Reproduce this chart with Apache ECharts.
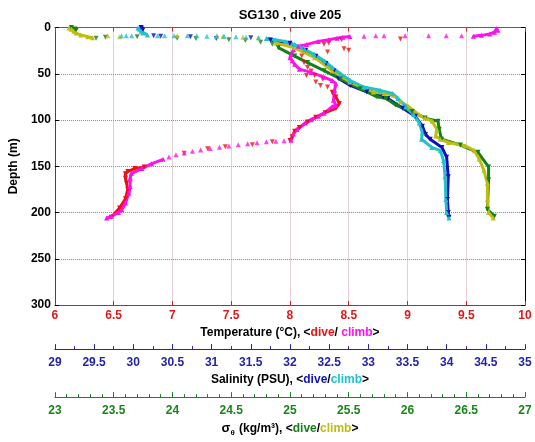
<!DOCTYPE html>
<html>
<head>
<meta charset="utf-8">
<script src="https://cdn.jsdelivr.net/npm/echarts@6/dist/echarts.min.js"></script>
<style>html,body{margin:0;padding:0;background:#fff;}#c{width:535px;height:442px;}</style>
</head>
<body>
<div id="c"></div>
<script>
// ---- data: [value, depth(m)] ----
const tempDiveSparse = [[8.94,12.5],[8.44,13.2],[8.33,16.7],[8.29,18],[8.46,23],[8.50,24.5],[8.32,26.6],[8.10,30.9],[8.12,38],[8.15,43.2],[8.18,47],[8.14,52],[8.21,52],[8.28,56],[8.22,59],[8.26,62.6],[8.32,64.3],[7.85,123.5],[7.68,126.8],[7.45,129],[7.30,131],[7.10,136]];
const tempDive = [[8.36,70],[8.39,75],[8.42,82],[8.39,87.3],[8.30,92],[8.22,97],[8.15,102],[8.08,108],[8.04,112],[8.02,118],[8.00,122]];
const tempDiveDeep = [[6.76,150.7],[6.68,152.5],[6.62,155.5],[6.60,158],[6.60,163],[6.61,168.4],[6.62,175],[6.60,185],[6.55,195],[6.48,205]];
const tempClimbTop = [[9.76,1],[9.77,3],[9.74,5],[9.70,7],[9.63,8.5],[9.56,9.5]];
const tempClimbSparse = [[9.46,9],[9.33,9],[9.18,9],[8.98,9],[8.80,9],[8.73,9],[8.63,9.5]];
const tempClimb = [[8.51,9.7],[8.45,10.5],[8.40,11.5],[8.33,13.2],[8.24,15],[8.14,18.5],[8.07,20.3],[8.03,24],[8.01,29],[8.00,32.6],[8.02,36],[8.04,39.7],[8.08,45],[8.18,48.5],[8.29,53.7],[8.36,57.3],[8.39,60.8],[8.38,67.9],[8.37,78.5],[8.39,83.8],[8.36,85.5],[8.29,92.6],[8.24,96],[8.18,99.6],[8.13,103.1],[8.06,110.2],[8.03,115],[8.01,121.8]];
const tempClimbSweep = [[7.95,122.3],[7.88,122.8],[7.80,123.5],[7.72,124.5],[7.64,125.5],[7.56,126.8],[7.48,128],[7.40,129.3],[7.32,130.8],[7.24,132.4],[7.17,133.8],[7.10,135.5],[7.03,137.5],[6.97,140]];
const tempClimbDeep = [[6.92,142.5],[6.82,147.3],[6.74,152.5],[6.65,157.8],[6.64,163],[6.64,171.9],[6.63,179],[6.60,189.6],[6.57,197],[6.54,200],[6.48,204],[6.44,206]];

const salDiveTop = [[30.10,0],[30.11,1.5],[30.12,3]];
const salDiveSparse = [[30.26,9],[30.35,9.5],[30.73,10],[31.06,12],[31.50,11]];
const salDive = [[31.75,13.5],[32.00,17],[32.20,24.5],[32.33,31],[32.46,39],[32.56,47],[32.62,55],[32.77,62.6],[32.98,69.6],[33.19,74.9],[33.25,76.7],[33.44,87.3],[33.60,96],[33.69,106.6],[33.73,115.5],[33.79,120.8],[33.94,129.6],[34.00,140.2],[34.02,161.3],[34.01,186],[34.02,200],[34.03,205]];
const salClimbTop = [[30.06,0.5],[30.08,2],[30.10,4],[30.12,6],[30.18,8]];
const salClimbSparse = [[29.85,9],[29.91,9],[29.98,9],[30.31,9],[30.40,9],[30.52,9],[30.69,9],[30.81,9],[30.94,9.5],[31.06,9.5],[31.16,9.5],[31.31,10],[31.44,10.5],[31.60,11]];
const salClimb = [[31.70,12],[31.81,13.2],[31.94,15],[32.06,18.5],[32.19,23.8],[32.31,29],[32.44,36.2],[32.54,43.2],[32.65,50.2],[32.77,57.3],[32.94,64.3],[33.15,67.9],[33.31,71.4],[33.38,76.7],[33.48,85.5],[33.58,94.4],[33.65,103.1],[33.69,113.7],[33.68,120.8],[33.81,129.6],[33.92,133.1],[33.96,143.7],[33.98,161.3],[33.99,186],[34.00,200],[34.03,206]];

const sigDiveTop = [[23.14,0],[23.17,1.5],[23.18,3]];
const sigDiveSparse = [[23.35,11.5],[23.43,10.5],[23.70,10],[24.04,11.5],[24.20,12],[24.48,13.2],[24.62,14],[24.75,16],[24.85,18]];
const sigDive = [[24.90,21.7],[25.04,30.9],[25.15,37.9],[25.29,46.7],[25.43,55.5],[25.60,66.1],[25.74,74.9],[25.82,76.7],[25.90,83.8],[26.04,90.8],[26.15,97.9],[26.26,101.3],[26.27,110],[26.29,120.8],[26.45,127],[26.60,134.9],[26.69,150.7],[26.69,164.8],[26.68,196.5],[26.74,204]];
const sigClimbTop = [[23.12,0.5],[23.14,2],[23.16,4],[23.18,6],[23.22,8],[23.28,10],[23.32,11]];
const sigClimbSparse = [[23.45,9],[23.55,10],[24.04,9],[24.38,9],[24.43,9.5],[24.60,10.5],[24.73,11],[24.80,12]];
const sigClimb = [[24.88,16.7],[25.04,22],[25.21,32.6],[25.36,46.7],[25.51,59],[25.71,69.6],[25.80,71.4],[25.88,73.2],[25.94,80.2],[26.01,85.5],[26.10,94.4],[26.15,97.9],[26.21,101.3],[26.25,110.2],[26.24,117.2],[26.28,120.8],[26.35,124.3],[26.49,127.8],[26.57,133.1],[26.61,142],[26.65,154.2],[26.68,168.4],[26.68,186],[26.69,200],[26.73,206]];

const depthTicks = [0, 300, 50];
const tempRange = [6, 10, 0.5];
const salRange = [29, 35, 0.5];
const sigRange = [23, 27, 0.5];

const C = {red:'#ee1111', mag:'#ff11ee', blue:'#1010c0', cyan:'#22c2cc', green:'#15801a', yel:'#bdbd12'};
const F = 'Liberation Sans, Arial, sans-serif';

function lineS(data, xi, color, down){
  return {type:'line', data:data, xAxisIndex:xi, yAxisIndex:0, symbol:'triangle', symbolSize:5,
    symbolRotate: down?180:0, showSymbol:true, lineStyle:{color:color,width:3}, itemStyle:{color:color}, z:3, silent:true};
}
function scatS(data, xi, color, down){
  return {type:'scatter', data:data, xAxisIndex:xi, yAxisIndex:0, symbol:'triangle', symbolSize:5,
    symbolRotate: down?180:0, itemStyle:{color:color}, z:3, silent:true};
}
function bx(min,max,interval,color,offset,minor,name,rich,gap,labMargin){
  return {type:'value', min:min, max:max, interval:interval, position:'bottom', offset:offset,
    axisLine:{show:true, onZero:false, lineStyle:{color:color,width:1}},
    axisTick:{show:true, inside:true, length:5, lineStyle:{color:color}},
    minorTick:{show:minor>0, splitNumber:minor||2, length:3, lineStyle:{color:color}},
    axisLabel:{color:color, fontWeight:'bold', fontSize:12, fontFamily:F, margin:labMargin},
    splitLine:{show:false},
    name:name, nameLocation:'middle', nameGap:gap,
    nameTextStyle:{color:'#000', fontWeight:'bold', fontSize:12, fontFamily:F, rich:rich}};
}
const rb = (c)=>({color:c, fontWeight:'bold', fontSize:12, fontFamily:F});

const xTemp = bx(tempRange[0],tempRange[1],tempRange[2],'#dd1a1a',0,0,
  'Temperature (°C), <{a|dive}/ {b|climb}>', {a:rb(C.red), b:rb(C.mag)}, 19, 5);
xTemp.splitLine = {show:true, lineStyle:{type:'dotted', color:'#c8a4a4'}};
xTemp.axisTick.length = 4;
const xSal = bx(salRange[0],salRange[1],salRange[2],'#2424a8',44,2,
  'Salinity (PSU), <{a|dive}/{b|climb}>', {a:rb(C.blue), b:rb(C.cyan)}, 23, 8);
const xSig = bx(sigRange[0],sigRange[1],sigRange[2],'#1a861a',92,5,
  '{s|σ}{t|θ} (kg/m³), <{a|dive}/{b|climb}>',
  {a:rb(C.green), b:rb(C.yel), s:{fontSize:13,fontFamily:F,color:'#000'},
   t:{fontSize:8,fontFamily:F,color:'#000',padding:[9,1,0,0]}}, 21, 8);
const xTop = {type:'value', min:tempRange[0], max:tempRange[1], interval:tempRange[2], position:'top',
  axisLine:{show:true,onZero:false,lineStyle:{color:'#cc3333'}}, axisTick:{show:true,inside:true,length:4,lineStyle:{color:'#cc3333'}},
  axisLabel:{show:false}, splitLine:{show:false}};

const option = {
  animation:false,
  backgroundColor:'#fff',
  title:{text:'SG130 , dive 205', left:285, textAlign:'center', top:4,
    textStyle:{fontSize:13, fontWeight:'bold', fontFamily:F, color:'#000'}},
  grid:{left:45, right:10, top:27.5, bottom:131, containLabel:false},
  xAxis:[xTemp, xTop, xSal, xSig],
  yAxis:[
    {type:'value', inverse:true, min:depthTicks[0], max:depthTicks[1], interval:depthTicks[2], position:'left',
     axisLine:{show:true,onZero:false,lineStyle:{color:'#8a2a2a'}},
     axisTick:{show:true,inside:true,length:4,lineStyle:{color:'#000'}},
     axisLabel:{color:'#000',fontWeight:'bold',fontSize:12,fontFamily:F,margin:4},
     splitLine:{show:true,lineStyle:{type:'dotted',color:'#8a8a8a'}},
     name:'Depth (m)', nameLocation:'middle', nameGap:30, nameRotate:90,
     nameTextStyle:{color:'#000',fontWeight:'bold',fontSize:12,fontFamily:F}},
    {type:'value', inverse:true, min:depthTicks[0], max:depthTicks[1], interval:depthTicks[2], position:'right',
     axisLine:{show:true,onZero:false,lineStyle:{color:'#000'}},
     axisTick:{show:true,inside:true,length:4,lineStyle:{color:'#000'}},
     axisLabel:{show:false}, splitLine:{show:false}}
  ],
  series:[
    scatS(tempDiveSparse,0,C.red,true),
    lineS(tempDive,0,C.red,true),
    lineS(tempDiveDeep,0,C.red,true),
    lineS(tempClimbTop,0,C.mag,false),
    scatS(tempClimbSparse,0,C.mag,false),
    lineS(tempClimb,0,C.mag,false),
    scatS(tempClimbSweep,0,C.mag,false),
    lineS(tempClimbDeep,0,C.mag,false),
    lineS(salDiveTop,2,C.blue,true),
    scatS(salDiveSparse,2,C.blue,true),
    lineS(salDive,2,C.blue,true),
    lineS(sigDiveTop,3,C.green,true),
    scatS(sigDiveSparse,3,C.green,true),
    lineS(sigDive,3,C.green,true),
    lineS(sigClimbTop,3,C.yel,false),
    scatS(sigClimbSparse,3,C.yel,false),
    lineS(sigClimb,3,C.yel,false),
    lineS(salClimbTop,2,C.cyan,false),
    scatS(salClimbSparse,2,C.cyan,false),
    lineS(salClimb,2,C.cyan,false)
  ]
};
echarts.init(document.getElementById('c'),null,{renderer:'canvas'}).setOption(option);
</script>
</body>
</html>
